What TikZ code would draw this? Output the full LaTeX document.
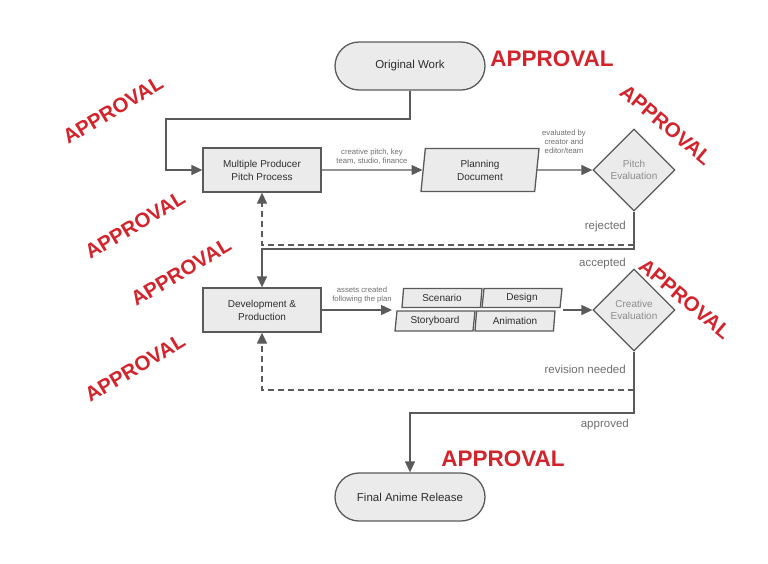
\documentclass[tikz,border=0pt]{standalone}
\usepackage{fontspec}
\setmainfont{Liberation Sans}
\usetikzlibrary{shapes.geometric,arrows.meta}
\definecolor{boxfill}{HTML}{EBEBEB}
\definecolor{edge}{HTML}{5A5A5A}
\definecolor{txt}{HTML}{2E2E2E}
\definecolor{soft}{HTML}{8C8C8C}
\definecolor{lbl}{HTML}{6E6E6E}
\definecolor{stamp}{HTML}{D3242C}
\tikzset{
  base/.style={draw=edge, fill=boxfill, line width=1.3pt, text=txt, inner sep=0pt, align=center},
  pill/.style={base, rectangle, rounded corners=24pt, minimum width=150pt, minimum height=48pt, font=\fontsize{11.5}{14}\selectfont},
  procbox/.style={base, rectangle, minimum width=118pt, minimum height=44pt, font=\fontsize{10}{13}\selectfont},
  para/.style={base, trapezium, trapezium left angle=78, trapezium right angle=102, trapezium stretches body, font=\fontsize{10}{13}\selectfont},
  decide/.style={base, diamond, minimum size=82pt, text=soft, font=\fontsize{10}{12.5}\selectfont},
  arr/.style={draw=edge, line width=1.3pt, -{Triangle[length=11pt,width=10pt]}},
  dash arr/.style={arr, dash pattern=on 6pt off 4pt},
  tiny/.style={text=lbl, font=\fontsize{7.7}{9}\selectfont, align=center, inner sep=0pt},
  side/.style={text=lbl, font=\fontsize{11.5}{14}\selectfont, inner sep=0pt, anchor=east},
  stampA/.style={text=stamp, font=\fontsize{22.5}{26}\selectfont\bfseries, inner sep=0pt},
  stampB/.style={text=stamp, font=\fontsize{20.5}{24}\selectfont\bfseries, inner sep=0pt}
}
\begin{document}
\begin{tikzpicture}[x=1pt,y=-1pt]
\useasboundingbox (0,0) rectangle (768,563);
% nodes
\node[pill] (orig) at (410,66) {Original Work};
\node[procbox] (mpp) at (262,170) {Multiple Producer\\Pitch Process};
\node[para, minimum width=118pt, minimum height=43pt] (plan) at (480,170) {Planning\\Document};
\node[decide] (pitch) at (634,170) {Pitch\\Evaluation};
\node[procbox] (dev) at (262,310) {Development \&\\Production};
\node[para, minimum width=80pt, minimum height=19pt] (scen) at (442,298) {Scenario};
\node[para, minimum width=80pt, minimum height=19pt] (des) at (522,298) {Design};
\node[para, minimum width=80pt, minimum height=20pt] (story) at (435,321) {Storyboard};
\node[para, minimum width=80pt, minimum height=20pt] (anim) at (515,321) {Animation};
\node[decide] (creat) at (634,310) {Creative\\Evaluation};
\node[pill] (fin) at (410,497) {Final Anime Release};
\coordinate (grpL) at (392,310);
\coordinate (grpR) at (563,310);
% connectors
\draw[arr] (orig.south) -- (410,119) -| (166,170) -- (mpp.west);
\draw[arr] (mpp.east) -- (plan.west);
\draw[arr] (plan.east) -- (pitch.west);
\draw[arr] (pitch.south) -- (634,249) -| (dev.north);
\draw[dash arr] (634,245) -| (mpp.south);
\draw[arr] (dev.east) -- (grpL);
\draw[arr] (grpR) -- (creat.west);
\draw[arr] (creat.south) -- (634,413) -| (fin.north);
\draw[dash arr] (634,390) -| (dev.south);
% labels
\node[tiny] (l1) at (372,157) {creative pitch, key\\team, studio, finance};
\node[tiny] (l2) at (564,142) {evaluated by\\creator and\\editor/team};
\node[tiny] (l3) at (362,295) {assets created\\following the plan};
\node[side] (rej) at (626,227) {rejected};
\node[side] (acc) at (626,264) {accepted};
\node[side] (rev) at (626,369) {revision needed};
\node[side] (appr) at (629,425) {approved};
% stamps
\node[stampA] (s1) at (552,59) {APPROVAL};
\node[stampA] (s2) at (503,459) {APPROVAL};
\node[stampB, rotate=31] (s3) at (113,110) {APPROVAL};
\node[stampB, rotate=31] (s4) at (135,225) {APPROVAL};
\node[stampB, rotate=31] (s5) at (181,272) {APPROVAL};
\node[stampB, rotate=31] (s6) at (135,368) {APPROVAL};
\node[stampB, rotate=-40] (s7) at (666,125) {APPROVAL};
\node[stampB, rotate=-40] (s8) at (685,299) {APPROVAL};
\end{tikzpicture}
\end{document}
